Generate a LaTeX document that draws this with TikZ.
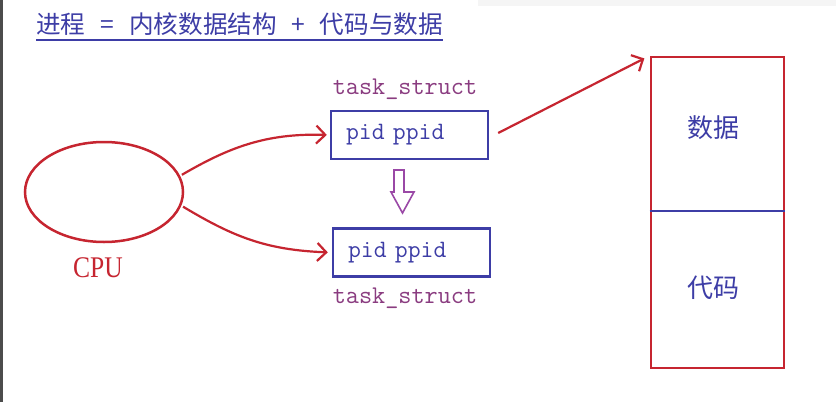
\documentclass[tikz,border=0pt]{standalone}
\usepackage{fontspec}
\setmainfont{Liberation Serif}
\newfontfamily\cjk{Noto Sans CJK SC}
\usetikzlibrary{arrows.meta,shapes.geometric}
\definecolor{myred}{HTML}{C62530}
\definecolor{myblue}{HTML}{3D3DA6}
\definecolor{mypurple}{HTML}{8A3C80}
\definecolor{arrpurple}{HTML}{9A48A6}
\begin{document}
\begin{tikzpicture}[x=1pt,y=-1pt,
  conn/.style={myred,line width=2.2pt,-{Straight Barb[length=9pt,width=18pt,line width=2.2pt]}},
  pidbox/.style={draw=myblue,line width=2.4pt,minimum height=48pt,text width=127pt,inner xsep=15pt,inner ysep=0pt,
     font=\fontsize{25}{25}\selectfont\ttfamily,text=myblue,align=left},
  tasklabel/.style={font=\fontsize{25.5}{25}\selectfont\ttfamily,text=mypurple,inner sep=0pt},
  memtext/.style={font=\fontsize{26}{26}\selectfont\cjk,text=myblue,inner sep=0pt}]

\useasboundingbox (0,0) rectangle (836,402);
\fill[white] (0,0) rectangle (836,402);
\fill[black!70] (0,0) rectangle (3,402);
\fill[black!4] (478,0) rectangle (836,6);

% title
\node[anchor=base west,inner sep=0pt,font=\fontsize{24.6}{25}\selectfont\cjk,text=myblue] (title) at (36,33)
  {进程\makebox[44pt]{=}内核数据结构\makebox[43pt]{+}代码与数据};
\draw[myblue,line width=1.3pt] (36,40) -- (title.east |- 0,40);

% CPU
\node[ellipse,draw=myred,line width=2.5pt,minimum width=158pt,minimum height=100pt] (cpu) at (104,192) {};
\node[font=\fontsize{30}{30}\selectfont,text=myred,xscale=0.85,inner sep=0pt] (cpulabel) at (98,268) {CPU};

% task_struct boxes
\node[pidbox] (box1) at (409.5,135) {pid ppid};
\node[pidbox] (box2) at (411.5,252.5) {pid ppid};
\node[tasklabel] (ts1) at (405,89) {task\_struct};
\node[tasklabel] (ts2) at (405,298) {task\_struct};

% hollow arrow
\draw[arrpurple,line width=1.6pt,line join=miter]
  (394,170) -- (404,170) -- (404,192) -- (414,192) -- (402.5,213) -- (391,192) -- (394,192) -- cycle;

% memory
\node[draw=myred,line width=2.6pt,minimum width=133pt,minimum height=311pt,inner sep=0pt] (mem) at (717.5,212.5) {};
\draw[myblue,line width=2pt] (mem.west |- 0,211) -- (mem.east |- 0,211);
\node[memtext] (data) at (713,128) {数据};
\node[memtext] (code) at (713,288) {代码};

% connectors
\draw[conn,shorten <=2pt,shorten >=3pt] (cpu.12) .. controls (228,148) and (265,133) .. (box1.west);
\draw[conn,shorten <=2pt,shorten >=4pt] (cpu.-10) .. controls (232,236) and (265,250) .. (box2.west);
\draw[conn,shorten >=6pt] ([xshift=9pt,yshift=2pt]box1.east) -- (mem.north west);
\end{tikzpicture}
\end{document}
